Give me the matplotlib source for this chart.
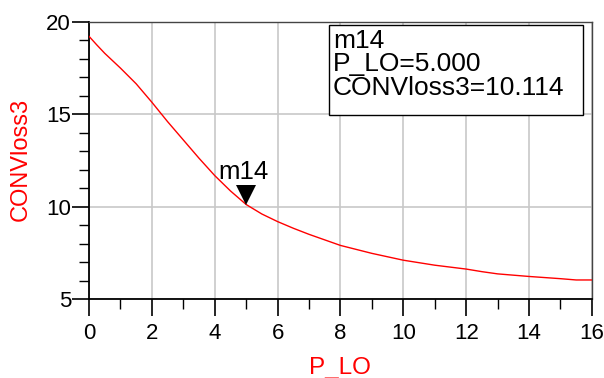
import matplotlib
matplotlib.use('Agg')
import matplotlib.pyplot as plt
from matplotlib.ticker import MultipleLocator
from matplotlib.transforms import offset_copy
from matplotlib.patches import Rectangle

plt.rcParams['font.family'] = ['Liberation Sans', 'DejaVu Sans']

# swept LO power and conversion loss
p_lo = [0, 0.25, 0.5, 1, 1.5, 2, 2.5, 3, 3.5, 4, 4.5, 5, 5.5, 6, 6.5, 7, 7.5, 8, 9, 10, 11, 12, 12.5, 13,
        14, 15, 15.5, 16]
conv_loss = [19.22, 18.75, 18.3, 17.5, 16.65, 15.65, 14.6, 13.61, 12.62, 11.68, 10.85, 10.114, 9.6, 9.19,
             8.83, 8.5, 8.2, 7.9, 7.47, 7.1, 6.83, 6.62, 6.48, 6.36, 6.22, 6.10, 6.03, 6.03]

marker_name = 'm14'
marker_x = 5.0
marker_y = 10.114

fig = plt.figure(figsize=(6.04, 3.78), dpi=100)
ax = fig.add_axes([0.1474, 0.209, 0.8326, 0.733])

ax.plot(p_lo, conv_loss, color='red', lw=1.0, zorder=3)

# marker triangle sitting with its tip on the curve
tri_tr = offset_copy(ax.transData, fig=fig, x=0, y=7, units='points')
ax.plot(marker_x, marker_y, marker='v', markersize=14, color='black',
        markeredgewidth=0, zorder=4, transform=tri_tr)
lab_tr = offset_copy(ax.transData, fig=fig, x=-2, y=15, units='points')
ax.text(marker_x, marker_y, marker_name, transform=lab_tr,
        ha='center', va='bottom', fontsize=18.5, color='black', zorder=5)

# readout box
ax.add_patch(Rectangle((0.477, 0.664), 0.505, 0.325, transform=ax.transAxes,
                       fc='white', ec='black', lw=1.0, zorder=6))
ax.text(0.485, 0.975, '%s\nP_LO=%.3f\nCONVloss3=%.3f' % (marker_name, marker_x, marker_y),
        transform=ax.transAxes, ha='left', va='top', fontsize=19, linespacing=0.98, zorder=7)

ax.set_xlim(0, 16)
ax.set_ylim(5, 20)
ax.xaxis.set_major_locator(MultipleLocator(2))
ax.xaxis.set_minor_locator(MultipleLocator(1))
ax.yaxis.set_major_locator(MultipleLocator(5))
ax.yaxis.set_minor_locator(MultipleLocator(1))
ax.grid(True, which='major', color='#c8c8c8', lw=1.2)
ax.set_axisbelow(True)

ax.tick_params(which='major', direction='out', length=12, width=1.2, color='black',
               labelsize=16, pad=1)
ax.tick_params(which='minor', direction='out', length=7, width=1.0, color='black')
ax.tick_params(axis='x', which='major', pad=5)

for s in ['left', 'bottom']:
    ax.spines[s].set_color('black')
    ax.spines[s].set_linewidth(1.3)
for s in ['top', 'right']:
    ax.spines[s].set_color('#444444')
    ax.spines[s].set_linewidth(1.0)

fig.text(0.563, 0.026, 'P_LO', color='red', fontsize=17.5, ha='center', va='center')
fig.text(0.034, 0.577, 'CONVloss3', color='red', fontsize=17, ha='center', va='center', rotation=90)

fig.savefig('out.png', dpi=100)
